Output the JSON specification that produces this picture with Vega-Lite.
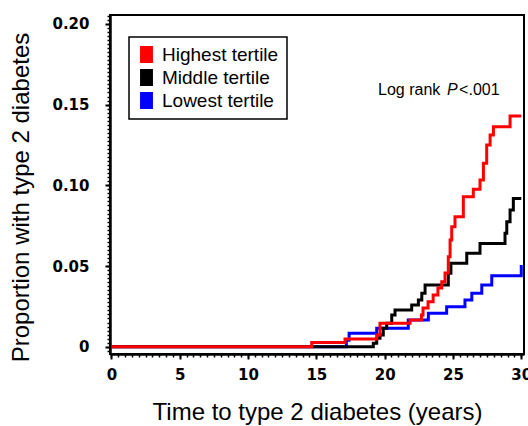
{
  "$schema": "https://vega.github.io/schema/vega-lite/v6.json",
  "width": 414,
  "height": 339,
  "autosize": {"type": "none"},
  "padding": {"left": 110, "top": 15, "right": 4, "bottom": 72},
  "background": "white",
  "config": {
    "view": {"stroke": "black", "strokeWidth": 2},
    "font": "Liberation Sans"
  },
  "data": {
    "values": [
      {"g": "Lowest tertile", "k": 0, "t": 0, "p": 0},
      {"g": "Lowest tertile", "k": 1, "t": 17.2, "p": 0.004},
      {"g": "Lowest tertile", "k": 2, "t": 17.4, "p": 0.0083},
      {"g": "Lowest tertile", "k": 3, "t": 19.42, "p": 0.0114},
      {"g": "Lowest tertile", "k": 4, "t": 21.73, "p": 0.0165},
      {"g": "Lowest tertile", "k": 5, "t": 23.2, "p": 0.0207},
      {"g": "Lowest tertile", "k": 6, "t": 24.54, "p": 0.0248},
      {"g": "Lowest tertile", "k": 7, "t": 25.88, "p": 0.029},
      {"g": "Lowest tertile", "k": 8, "t": 26.38, "p": 0.0331},
      {"g": "Lowest tertile", "k": 9, "t": 27.11, "p": 0.0382},
      {"g": "Lowest tertile", "k": 10, "t": 27.84, "p": 0.044},
      {"g": "Lowest tertile", "k": 11, "t": 30.0, "p": 0.044},
      {"g": "Lowest tertile", "k": 12, "t": 30.0, "p": 0.0506},
      {"g": "Middle tertile", "k": 0, "t": 0, "p": 0},
      {"g": "Middle tertile", "k": 1, "t": 19.17, "p": 0.0021},
      {"g": "Middle tertile", "k": 2, "t": 19.42, "p": 0.0052},
      {"g": "Middle tertile", "k": 3, "t": 19.66, "p": 0.0072},
      {"g": "Middle tertile", "k": 4, "t": 19.9, "p": 0.0114},
      {"g": "Middle tertile", "k": 5, "t": 20.15, "p": 0.0145},
      {"g": "Middle tertile", "k": 6, "t": 20.52, "p": 0.0196},
      {"g": "Middle tertile", "k": 7, "t": 20.76, "p": 0.0227},
      {"g": "Middle tertile", "k": 8, "t": 21.98, "p": 0.0258},
      {"g": "Middle tertile", "k": 9, "t": 22.47, "p": 0.0289},
      {"g": "Middle tertile", "k": 10, "t": 22.72, "p": 0.0331},
      {"g": "Middle tertile", "k": 11, "t": 22.96, "p": 0.0382},
      {"g": "Middle tertile", "k": 12, "t": 24.66, "p": 0.0455},
      {"g": "Middle tertile", "k": 13, "t": 24.85, "p": 0.0517},
      {"g": "Middle tertile", "k": 14, "t": 26.01, "p": 0.0579},
      {"g": "Middle tertile", "k": 15, "t": 26.98, "p": 0.064},
      {"g": "Middle tertile", "k": 16, "t": 28.81, "p": 0.0703},
      {"g": "Middle tertile", "k": 17, "t": 28.94, "p": 0.0774},
      {"g": "Middle tertile", "k": 18, "t": 29.18, "p": 0.0847},
      {"g": "Middle tertile", "k": 19, "t": 29.42, "p": 0.0919},
      {"g": "Middle tertile", "k": 20, "t": 30.0, "p": 0.0919},
      {"g": "Highest tertile", "k": 0, "t": 0, "p": 0},
      {"g": "Highest tertile", "k": 1, "t": 14.66, "p": 0.0027},
      {"g": "Highest tertile", "k": 2, "t": 17.1, "p": 0.0048},
      {"g": "Highest tertile", "k": 3, "t": 19.42, "p": 0.0072},
      {"g": "Highest tertile", "k": 4, "t": 19.66, "p": 0.0145},
      {"g": "Highest tertile", "k": 5, "t": 21.86, "p": 0.0165},
      {"g": "Highest tertile", "k": 6, "t": 22.7, "p": 0.0196},
      {"g": "Highest tertile", "k": 7, "t": 22.81, "p": 0.024},
      {"g": "Highest tertile", "k": 8, "t": 23.18, "p": 0.0279},
      {"g": "Highest tertile", "k": 9, "t": 23.55, "p": 0.032},
      {"g": "Highest tertile", "k": 10, "t": 23.9, "p": 0.0364},
      {"g": "Highest tertile", "k": 11, "t": 24.18, "p": 0.0403},
      {"g": "Highest tertile", "k": 12, "t": 24.42, "p": 0.0457},
      {"g": "Highest tertile", "k": 13, "t": 24.66, "p": 0.0558},
      {"g": "Highest tertile", "k": 14, "t": 24.79, "p": 0.0661},
      {"g": "Highest tertile", "k": 15, "t": 24.91, "p": 0.0743},
      {"g": "Highest tertile", "k": 16, "t": 25.15, "p": 0.0805},
      {"g": "Highest tertile", "k": 17, "t": 25.76, "p": 0.0929},
      {"g": "Highest tertile", "k": 18, "t": 26.49, "p": 0.0975},
      {"g": "Highest tertile", "k": 19, "t": 26.98, "p": 0.1033},
      {"g": "Highest tertile", "k": 20, "t": 27.23, "p": 0.1136},
      {"g": "Highest tertile", "k": 21, "t": 27.47, "p": 0.125},
      {"g": "Highest tertile", "k": 22, "t": 27.72, "p": 0.1312},
      {"g": "Highest tertile", "k": 23, "t": 27.96, "p": 0.1363},
      {"g": "Highest tertile", "k": 24, "t": 29.18, "p": 0.1429},
      {"g": "Highest tertile", "k": 25, "t": 30.0, "p": 0.1429}
    ]
  },
  "layer": [
    {
      "mark": {"type": "point", "opacity": 0},
      "encoding": {
        "x": {
          "field": "t", "type": "quantitative",
          "scale": {"domain": [-0.1, 30.2], "nice": false, "zero": false},
          "axis": {
            "orient": "bottom", "labels": false, "title": null, "domain": false, "grid": false,
            "tickSize": 3, "tickWidth": 1.5, "tickColor": "black",
            "values": [0,0.5,1,1.5,2,2.5,3,3.5,4,4.5,5,5.5,6,6.5,7,7.5,8,8.5,9,9.5,10,10.5,11,11.5,12,12.5,13,13.5,14,14.5,15,15.5,16,16.5,17,17.5,18,18.5,19,19.5,20,20.5,21,21.5,22,22.5,23,23.5,24,24.5,25,25.5,26,26.5,27,27.5,28,28.5,29,29.5,30]
          }
        },
        "y": {
          "field": "p", "type": "quantitative",
          "scale": {"domain": [-0.0045, 0.2055], "nice": false, "zero": false},
          "axis": {
            "orient": "left", "labels": false, "title": null, "domain": false, "grid": false,
            "tickSize": 3, "tickWidth": 1.5, "tickColor": "black",
            "values": [-0.0025,0,0.0025,0.005,0.0075,0.01,0.0125,0.015,0.0175,0.02,0.0225,0.025,0.0275,0.03,0.0325,0.035,0.0375,0.04,0.0425,0.045,0.0475,0.05,0.0525,0.055,0.0575,0.06,0.0625,0.065,0.0675,0.07,0.0725,0.075,0.0775,0.08,0.0825,0.085,0.0875,0.09,0.0925,0.095,0.0975,0.1,0.1025,0.105,0.1075,0.11,0.1125,0.115,0.1175,0.12,0.1225,0.125,0.1275,0.13,0.1325,0.135,0.1375,0.14,0.1425,0.145,0.1475,0.15,0.1525,0.155,0.1575,0.16,0.1625,0.165,0.1675,0.17,0.1725,0.175,0.1775,0.18,0.1825,0.185,0.1875,0.19,0.1925,0.195,0.1975,0.2,0.2025,0.205]
          }
        }
      }
    },
    {
      "mark": {"type": "line", "interpolate": "step-after", "strokeWidth": 3},
      "encoding": {
        "x": {
          "field": "t", "type": "quantitative",
          "axis": {
            "orient": "bottom", "values": [0,5,10,15,20,25,30], "grid": false,
            "tickSize": 5, "tickWidth": 2, "tickColor": "black",
            "domainWidth": 2.5, "domainColor": "black",
            "labelFont": "DejaVu Sans", "labelFontWeight": "bold", "labelFontSize": 15,
            "labelColor": "black", "labelPadding": 8, "labelFlush": false,
            "title": "Time to type 2 diabetes (years)", "titleFont": "Liberation Sans",
            "titleFontSize": 24, "titleFontWeight": "normal", "titleColor": "black", "titlePadding": 18
          }
        },
        "y": {
          "field": "p", "type": "quantitative",
          "axis": {
            "orient": "left", "values": [0,0.05,0.1,0.15,0.2], "grid": false,
            "labelExpr": "datum.value == 0 ? '0' : format(datum.value, '.2f')",
            "tickSize": 5, "tickWidth": 2, "tickColor": "black",
            "domainWidth": 2.5, "domainColor": "black",
            "labelFont": "DejaVu Sans", "labelFontWeight": "bold", "labelFontSize": 15,
            "labelColor": "black", "labelPadding": 16, "labelFlush": false,
            "title": "Proportion with type 2 diabetes", "titleFont": "Liberation Sans",
            "titleFontSize": 24, "titleFontWeight": "normal", "titleColor": "black",
            "titlePadding": 18, "titleY": 182
          }
        },
        "order": {"field": "k", "type": "quantitative"},
        "color": {
          "field": "g", "type": "nominal",
          "scale": {"domain": ["Highest tertile", "Middle tertile", "Lowest tertile"], "range": ["#ff0000", "#000000", "#0000ff"]},
          "legend": {
            "title": null, "orient": "none", "legendX": 19, "legendY": 22,
            "strokeColor": "black", "fillColor": "white", "padding": 8,
            "symbolType": "M-0.76,-1H0.76V1H-0.76Z", "symbolSize": 289,
            "labelFont": "Liberation Sans", "labelFontSize": 19, "labelColor": "black",
            "labelOffset": 6, "rowPadding": 3,
            "encode": {
              "symbols": {"update": {"fill": {"scale": "color", "field": "value"}, "strokeWidth": {"value": 0}, "opacity": {"value": 1}}},
              "legend": {"update": {"strokeWidth": {"value": 1.5}}}
            }
          }
        }
      }
    },
    {
      "data": {"values": [{"s": "Log rank"}]},
      "mark": {"type": "text", "align": "left", "baseline": "middle", "fontSize": 16, "font": "Liberation Sans", "color": "black"},
      "encoding": {
        "x": {"datum": 19.52, "type": "quantitative", "axis": null},
        "y": {"datum": 0.159, "type": "quantitative", "axis": null},
        "text": {"field": "s"}
      }
    },
    {
      "data": {"values": [{"s": "P"}]},
      "mark": {"type": "text", "align": "left", "baseline": "middle", "fontSize": 16, "font": "Liberation Sans", "fontStyle": "italic", "color": "black"},
      "encoding": {
        "x": {"datum": 24.57, "type": "quantitative", "axis": null},
        "y": {"datum": 0.159, "type": "quantitative", "axis": null},
        "text": {"field": "s"}
      }
    },
    {
      "data": {"values": [{"s": "<.001"}]},
      "mark": {"type": "text", "align": "left", "baseline": "middle", "fontSize": 16, "font": "Liberation Sans", "color": "black"},
      "encoding": {
        "x": {"datum": 25.45, "type": "quantitative", "axis": null},
        "y": {"datum": 0.159, "type": "quantitative", "axis": null},
        "text": {"field": "s"}
      }
    }
  ],
  "resolve": {"axis": {"x": "independent", "y": "independent"}}
}
